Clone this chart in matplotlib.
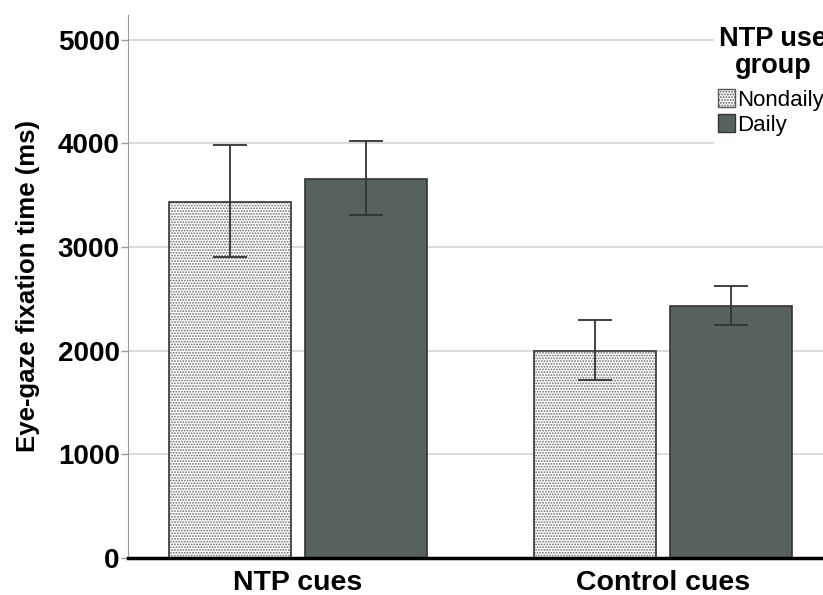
import matplotlib
matplotlib.use("Agg")
import matplotlib.pyplot as plt
from matplotlib.patches import Patch, Rectangle
import numpy as np

plt.rcParams['font.family'] = ['Liberation Sans', 'DejaVu Sans']
plt.rcParams['hatch.color'] = '#6e6e6e'
plt.rcParams['hatch.linewidth'] = 0.9

# données
categories = ["NTP cues", "Control cues"]
groups = ["Nondaily", "Daily"]
nondaily_mean = [3440, 2000]
nondaily_low = [2905, 1720]
nondaily_high = [3990, 2300]
daily_mean = [3660, 2435]
daily_low = [3310, 2250]
daily_high = [4025, 2625]
yticks = [0, 1000, 2000, 3000, 4000, 5000]

W, H = 823, 595
fig = plt.figure(figsize=(W/100, H/100), dpi=100)
ax = fig.add_axes([128/W, 37/H, 1 - 128/W, (558-15)/H])

x = np.arange(len(categories))
w = 0.335
off = 0.1866

# barres hachurées (Nondaily) puis contour
ax.bar(x - off, nondaily_mean, w, color='white', hatch='......', edgecolor='#6e6e6e', linewidth=0, zorder=3)
ax.bar(x - off, nondaily_mean, w, fill=False, edgecolor='#333333', linewidth=1.2, zorder=4)
ax.bar(x + off, daily_mean, w, color='#58625c', edgecolor='#333333', linewidth=1.2, zorder=3)

# barres d'erreur
for xs, m, lo, hi in [(x - off, nondaily_mean, nondaily_low, nondaily_high),
                      (x + off, daily_mean, daily_low, daily_high)]:
    m = np.array(m)
    err = [m - np.array(lo), np.array(hi) - m]
    ax.errorbar(xs, m, yerr=err, fmt='none', ecolor='#333333', elinewidth=1.3,
                capsize=12, capthick=1.3, zorder=5)

ax.set_xlim(-0.466, 1.438)
ax.set_ylim(0, 5240)
ax.set_yticks(yticks)
ax.set_yticklabels([str(t) for t in yticks], fontsize=20, fontweight='bold')
ax.set_xticks(x)
ax.set_xticklabels(categories, fontsize=20.5, fontweight='bold')
ax.tick_params(axis='x', length=0, pad=9)
ax.tick_params(axis='y', length=5, color='#999999', width=1, pad=1)
ax.set_ylabel("Eye-gaze fixation time (ms)", fontsize=18.5, fontweight='bold', labelpad=13)

ax.yaxis.grid(True, color='#d4d4d4', linewidth=1.2, zorder=0)
ax.set_axisbelow(True)
for s in ['top', 'right']:
    ax.spines[s].set_visible(False)
ax.spines['left'].set_color('#999999')
ax.spines['bottom'].set_color('black')
ax.spines['bottom'].set_linewidth(2.5)
ax.spines['bottom'].set_zorder(6)

# fond blanc de la légende (cache le quadrillage)
fig.patches.append(Rectangle((714/W, 1 - 152/H), (W - 714)/W, 130/H, transform=fig.transFigure,
                             facecolor='white', edgecolor='none', zorder=1))
fig.text(773/W, 1 - 26/H, "NTP use\ngroup", ha='center', va='top', fontsize=19.5,
         fontweight='bold', linespacing=1.05, multialignment='center', zorder=3)

handles = [Patch(facecolor='white', hatch='......', edgecolor='#555555', label=groups[0]),
           Patch(facecolor='#58625c', edgecolor='#333333', label=groups[1])]
leg = fig.legend(handles=handles, loc='upper left', bbox_to_anchor=(716/W, 1 - 87/H),
                 frameon=False, fontsize=16,
                 handlelength=0.75, handleheight=0.85, handletextpad=0.1, labelspacing=0.15,
                 borderpad=0.1, borderaxespad=0)
leg.set_zorder(3)

fig.savefig("out.png", dpi=100)
